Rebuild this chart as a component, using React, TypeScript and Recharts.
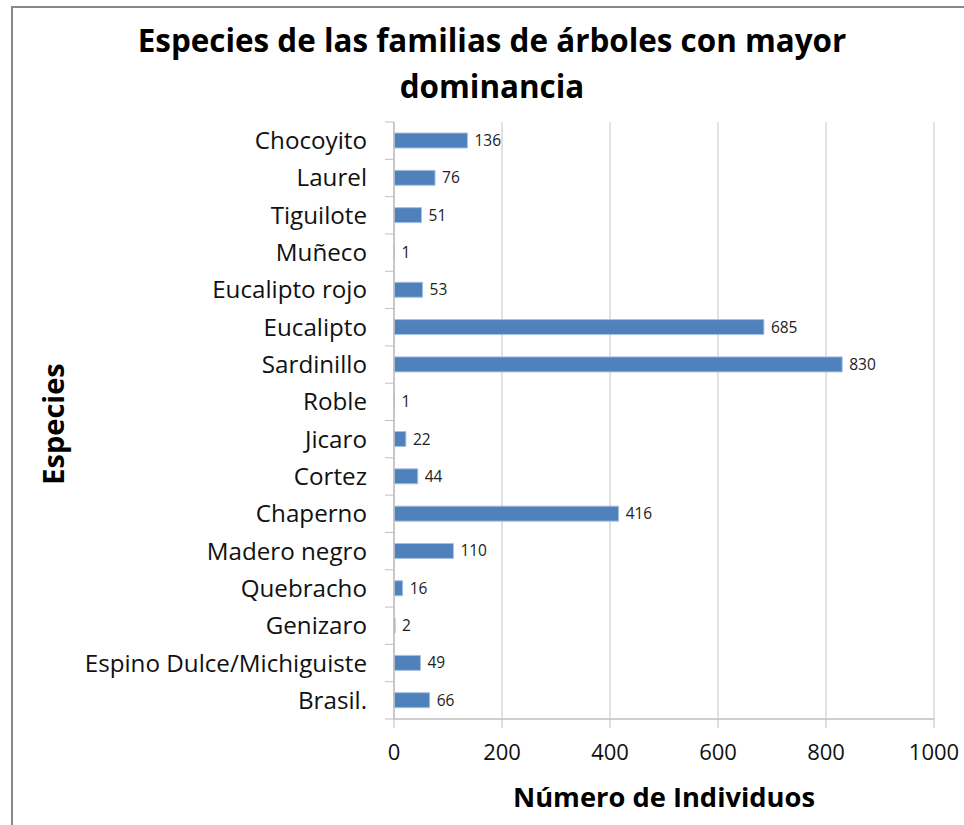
import { BarChart, Bar, XAxis, YAxis, CartesianGrid, LabelList } from "recharts";

const especies = [
  "Chocoyito",
  "Laurel",
  "Tiguilote",
  "Muñeco",
  "Eucalipto rojo",
  "Eucalipto",
  "Sardinillo",
  "Roble",
  "Jicaro",
  "Cortez",
  "Chaperno",
  "Madero negro",
  "Quebracho",
  "Genizaro",
  "Espino Dulce/Michiguiste",
  "Brasil.",
];
const individuos = [136, 76, 51, 1, 53, 685, 830, 1, 22, 44, 416, 110, 16, 2, 49, 66];
const xTicks = [0, 200, 400, 600, 800, 1000];

const data = especies.map((name, i) => ({ name, value: individuos[i] }));

const FONT = "'Open Sans', Lato, sans-serif";
const AXIS = "#BFBFBF";
const GRID = "#D9D9D9";
const BAR = "#4F81BD";

const W = 964;
const H = 825;
const X_H = 30;
const M = { top: 122, right: 30, bottom: 106 - X_H, left: 0 };
const Y_W = 394;
const BAND = (H - M.top - M.bottom - X_H) / especies.length;

// Excel-style category tick: label plus a short tick on the band boundary
function CatTick(props: any) {
  const { y, payload, index } = props;
  const ax = M.left + Y_W;
  return (
    <g>
      <line x1={ax - 9} x2={ax} y1={y - BAND / 2} y2={y - BAND / 2} stroke={AXIS} />
      {index === especies.length - 1 && (
        <line x1={ax - 9} x2={ax} y1={y + BAND / 2} y2={y + BAND / 2} stroke={AXIS} />
      )}
      <text x={ax - 27} y={y} dy="0.35em" textAnchor="end" fontSize={24.2} fill="#111" fontFamily={FONT}>
        {payload.value}
      </text>
    </g>
  );
}

export default function App() {
  return (
    <div style={{ position: "absolute", left: 0, top: 0, width: W, height: H, background: "#fff", fontFamily: FONT }}>
      <div
        style={{
          position: "absolute",
          left: 11,
          top: 6,
          right: -4,
          bottom: -4,
          borderLeft: "2px solid #888",
          borderTop: "2px solid #888",
        }}
      />
      <div
        style={{
          position: "absolute",
          left: 0,
          width: 984,
          top: 17,
          textAlign: "center",
          fontWeight: 700,
          fontSize: 31.4,
          lineHeight: "46px",
          color: "#000",
        }}
      >
        Especies de las familias de árboles con mayor
        <br />
        dominancia
      </div>
      <div
        style={{
          position: "absolute",
          left: 394,
          width: 540,
          top: 780,
          textAlign: "center",
          fontWeight: 700,
          fontSize: 27.3,
          lineHeight: "34px",
        }}
      >
        Número de Individuos
      </div>
      <div
        style={{
          position: "absolute",
          left: 52,
          top: 424,
          transform: "translate(-50%, -50%) rotate(-90deg)",
          fontWeight: 700,
          fontSize: 29,
          whiteSpace: "nowrap",
        }}
      >
        Especies
      </div>
      <div style={{ position: "absolute", left: 0, top: 0 }}>
        <BarChart width={W} height={H} data={data} layout="vertical" margin={M} barCategoryGap={0}>
          <CartesianGrid horizontal={false} stroke={GRID} strokeWidth={1.5} />
          <XAxis
            type="number"
            domain={[0, 1000]}
            ticks={xTicks}
            height={X_H}
            tickSize={9}
            tickMargin={16}
            stroke={AXIS}
            axisLine={{ stroke: AXIS, strokeWidth: 1.5 }}
            tick={{ fontSize: 22, fill: "#111", fontFamily: FONT }}
          />
          <YAxis
            type="category"
            dataKey="name"
            width={Y_W}
            interval={0}
            tickLine={false}
            axisLine={{ stroke: AXIS, strokeWidth: 1.5 }}
            tick={<CatTick />}
          />
          <Bar dataKey="value" fill={BAR} stroke="#A9C1E0" strokeWidth={1} barSize={15} isAnimationActive={false}>
            <LabelList dataKey="value" position="right" offset={7} fontSize={15.5} fill="#222" fontFamily={FONT} />
          </Bar>
        </BarChart>
      </div>
    </div>
  );
}
